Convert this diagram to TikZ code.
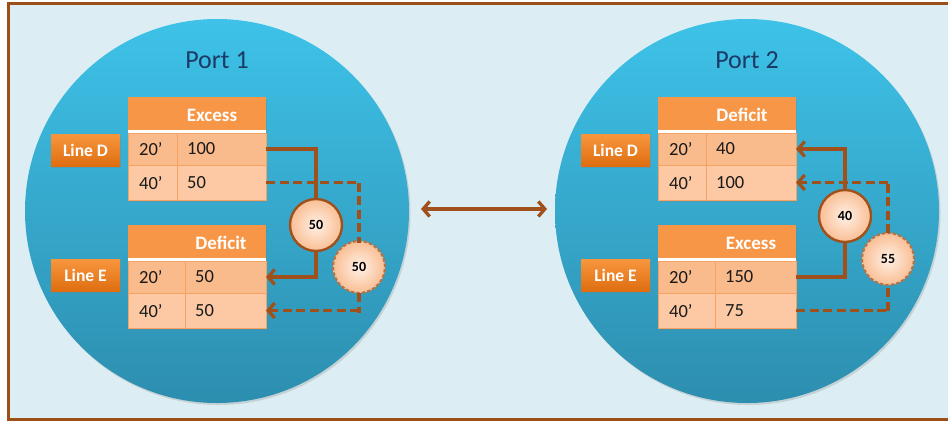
\documentclass[tikz,border=0pt]{standalone}
\usepackage{fontspec}
\setmainfont{Carlito}
\usetikzlibrary{arrows.meta,shadows,calc,decorations.markings}
\definecolor{brn}{HTML}{A0501A}
\definecolor{framebrn}{HTML}{9C4F16}
\definecolor{bgblue}{HTML}{DCEEF4}
\definecolor{porttop}{HTML}{3EC2E8}
\definecolor{portbot}{HTML}{2D8EAF}
\definecolor{hdrorange}{HTML}{F79646}
\definecolor{rowA}{HTML}{F9BA8C}
\definecolor{rowB}{HTML}{FCC9A4}
\definecolor{cellline}{HTML}{F6A263}
\definecolor{titleblue}{HTML}{1B3A66}
\definecolor{lbltop}{HTML}{F8963E}
\definecolor{lblbot}{HTML}{DE6E10}
\definecolor{circin}{HTML}{FFF1E6}
\definecolor{circout}{HTML}{F9BE94}
\tikzset{
  port/.style={circle, minimum size=384pt, inner sep=0pt, outer sep=0pt,
    top color=porttop, bottom color=portbot,
    drop shadow={shadow xshift=1.5pt, shadow yshift=-2pt, opacity=0.25}},
  porttitle/.style={text=titleblue, font=\fontsize{26}{30}\selectfont},
  tblbg/.style={fill=white, minimum width=138pt, minimum height=103pt, inner sep=0pt, outer sep=0pt,
    drop shadow={shadow xshift=1pt, shadow yshift=-1.5pt, opacity=0.3}},
  hdrbox/.style={fill=hdrorange, minimum width=138pt, minimum height=33pt, inner sep=0pt, outer sep=0pt},
  hdrtxt/.style={text=white, font=\bfseries\fontsize{19}{22}\selectfont},
  cellA/.style={fill=rowA, draw=cellline, line width=0.6pt, minimum height=32pt, inner sep=0pt, outer sep=0pt},
  cellB/.style={fill=rowB, draw=cellline, line width=0.6pt, minimum height=35pt, inner sep=0pt, outer sep=0pt},
  celltxt/.style={text=black!90, font=\fontsize{18.5}{21}\selectfont, inner sep=0pt},
  linelbl/.style={top color=lbltop, bottom color=lblbot, minimum width=69pt, minimum height=32pt,
    inner sep=0pt, text=white, font=\bfseries\fontsize{17.5}{20}\selectfont,
    drop shadow={shadow xshift=1pt, shadow yshift=-1.5pt, opacity=0.3}},
  qtybase/.style={circle, minimum size=52pt, inner sep=0pt, outer sep=0pt, inner color=circin, outer color=circout,
    font=\bfseries\fontsize{14}{16}\selectfont},
  qty/.style={qtybase, draw=brn, line width=2.4pt},
  conn/.style={draw=brn, line width=3.3pt},
  dmark/.style={decorate, decoration={markings,
    mark=between positions 0 and 1 step 13.5pt with {\draw[draw=brn, line width=3.3pt] (0pt,0pt) -- (9pt,0pt);}}},
  tip/.style={-{Straight Barb[length=6.5pt,width=15pt,line width=3.3pt]}},
}
\newcommand\mktable[8]{%
  \node[tblbg,anchor=north west] (#1) at (#2,#3) {};
  \node[hdrbox,anchor=north west] (#1h) at (#2,#3) {};
  \node[hdrtxt] (#1ht) at (#2+#6,#3+18) {#5};
  \node[cellA,anchor=north west,minimum width=#4pt] (#1a0) at (#2,#3+36) {};
  \node[cellA,anchor=north west,minimum width=138pt-#4pt] (#1a) at (#2+#4,#3+36) {};
  \node[cellB,anchor=north west,minimum width=#4pt] (#1b0) at (#2,#3+68) {};
  \node[cellB,anchor=north west,minimum width=138pt-#4pt] (#1b) at (#2+#4,#3+68) {};
  \node[celltxt,anchor=west] (#1a0t) at (#2+11,#3+52) {20’};
  \node[celltxt,anchor=west] (#1at) at (#2+#4+10,#3+52) {#7};
  \node[celltxt,anchor=west] (#1b0t) at (#2+11,#3+86) {40’};
  \node[celltxt,anchor=west] (#1bt) at (#2+#4+10,#3+86) {#8};
}
\newcommand\dashring[1]{%
  \foreach \a in {0,12,...,348}
    \draw[draw=brn!80, line width=2.2pt] ([shift={(\a:26pt)}]#1.center) arc[start angle=\a, delta angle=7.5, radius=26pt];
}
\begin{document}
\begin{tikzpicture}[x=1pt,y=-1pt]
\useasboundingbox (0,0) rectangle (948,421);
\clip (0,0) rectangle (948,421);
\fill[white] (0,0) rectangle (948,421);
\draw[framebrn, line width=3pt, fill=bgblue] (8.5,3.5) rectangle (970,419);

% ports
\node[port] (p1) at (217,211) {};
\node[port] (p2) at (747,211) {};
\node[porttitle] (p1t) at (217,60) {Port 1};
\node[porttitle] (p2t) at (747,60) {Port 2};

% port 1 tables
\mktable{la}{128}{97}{49}{Excess}{84}{100}{50}
\mktable{lb}{128}{225}{57}{Deficit}{93}{50}{50}
% port 2 tables
\mktable{ra}{658}{97}{48}{Deficit}{84}{40}{100}
\mktable{rb}{658}{225}{57}{Excess}{93}{150}{75}

% line labels
\node[linelbl] (lD1) at (85.5,150) {Line D};
\node[linelbl] (lE1) at (85.5,275) {Line E};
\node[linelbl] (lD2) at (615.5,150) {Line D};
\node[linelbl] (lE2) at (615.5,275) {Line E};

% quantity circles
\node[qty] (q1) at (316,225) {50};
\node[qtybase] (q2) at (359,267) {50};
\node[qty] (q3) at (845,216) {40};
\node[qtybase] (q4) at (888,259) {55};
\dashring{q2}
\dashring{q4}

% port 1 connectors
\begin{scope}
  \clip ([xshift=-1pt,yshift=2pt]lab.east) rectangle ([xshift=2pt,yshift=-1pt]q2.north);
  \path[dmark] (lab.east) -- (lab.east -| q2.north);
  \path[dmark] (lab.east -| q2.north) -- (q2.north);
\end{scope}
\draw[conn] (laa.east) -| (q1.north);
\draw[conn,tip] (q1.south) |- (lba.east);
\begin{scope}
  \clip ([xshift=2pt,yshift=1pt]q2.south) rectangle ([xshift=-1pt,yshift=-2pt]lbb.east);
  \path[dmark] (q2.south) -- (q2.south |- lbb.east);
  \path[dmark] (q2.south |- lbb.east) -- (lbb.east);
\end{scope}
\draw[conn,tip] ([xshift=7pt]lbb.east) -- (lbb.east);

% port 2 connectors
\draw[conn] (rba.east) -| (q3.south);
\begin{scope}
  \clip ([xshift=-1pt,yshift=-2pt]rbb.east) rectangle ([xshift=2pt,yshift=1pt]q4.south);
  \path[dmark] (rbb.east) -- (rbb.east -| q4.south);
  \path[dmark] (rbb.east -| q4.south) -- (q4.south);
\end{scope}
\begin{scope}
  \clip ([xshift=2pt,yshift=-1pt]q4.north) rectangle ([xshift=-1pt,yshift=2pt]rab.east);
  \path[dmark] (q4.north) -- (q4.north |- rab.east);
  \path[dmark] (q4.north |- rab.east) -- (rab.east);
\end{scope}
\draw[conn,tip] ([xshift=7pt]rab.east) -- (rab.east);
\draw[conn,tip] (q3.north) |- (raa.east);

% between ports
\draw[conn,{Straight Barb[length=6.5pt,width=15pt,line width=3.3pt]}-{Straight Barb[length=6.5pt,width=15pt,line width=3.3pt]},
  shorten <=12pt, shorten >=8pt] ([yshift=2pt]p1.east) -- ([yshift=2pt]p2.west);
\end{tikzpicture}
\end{document}
